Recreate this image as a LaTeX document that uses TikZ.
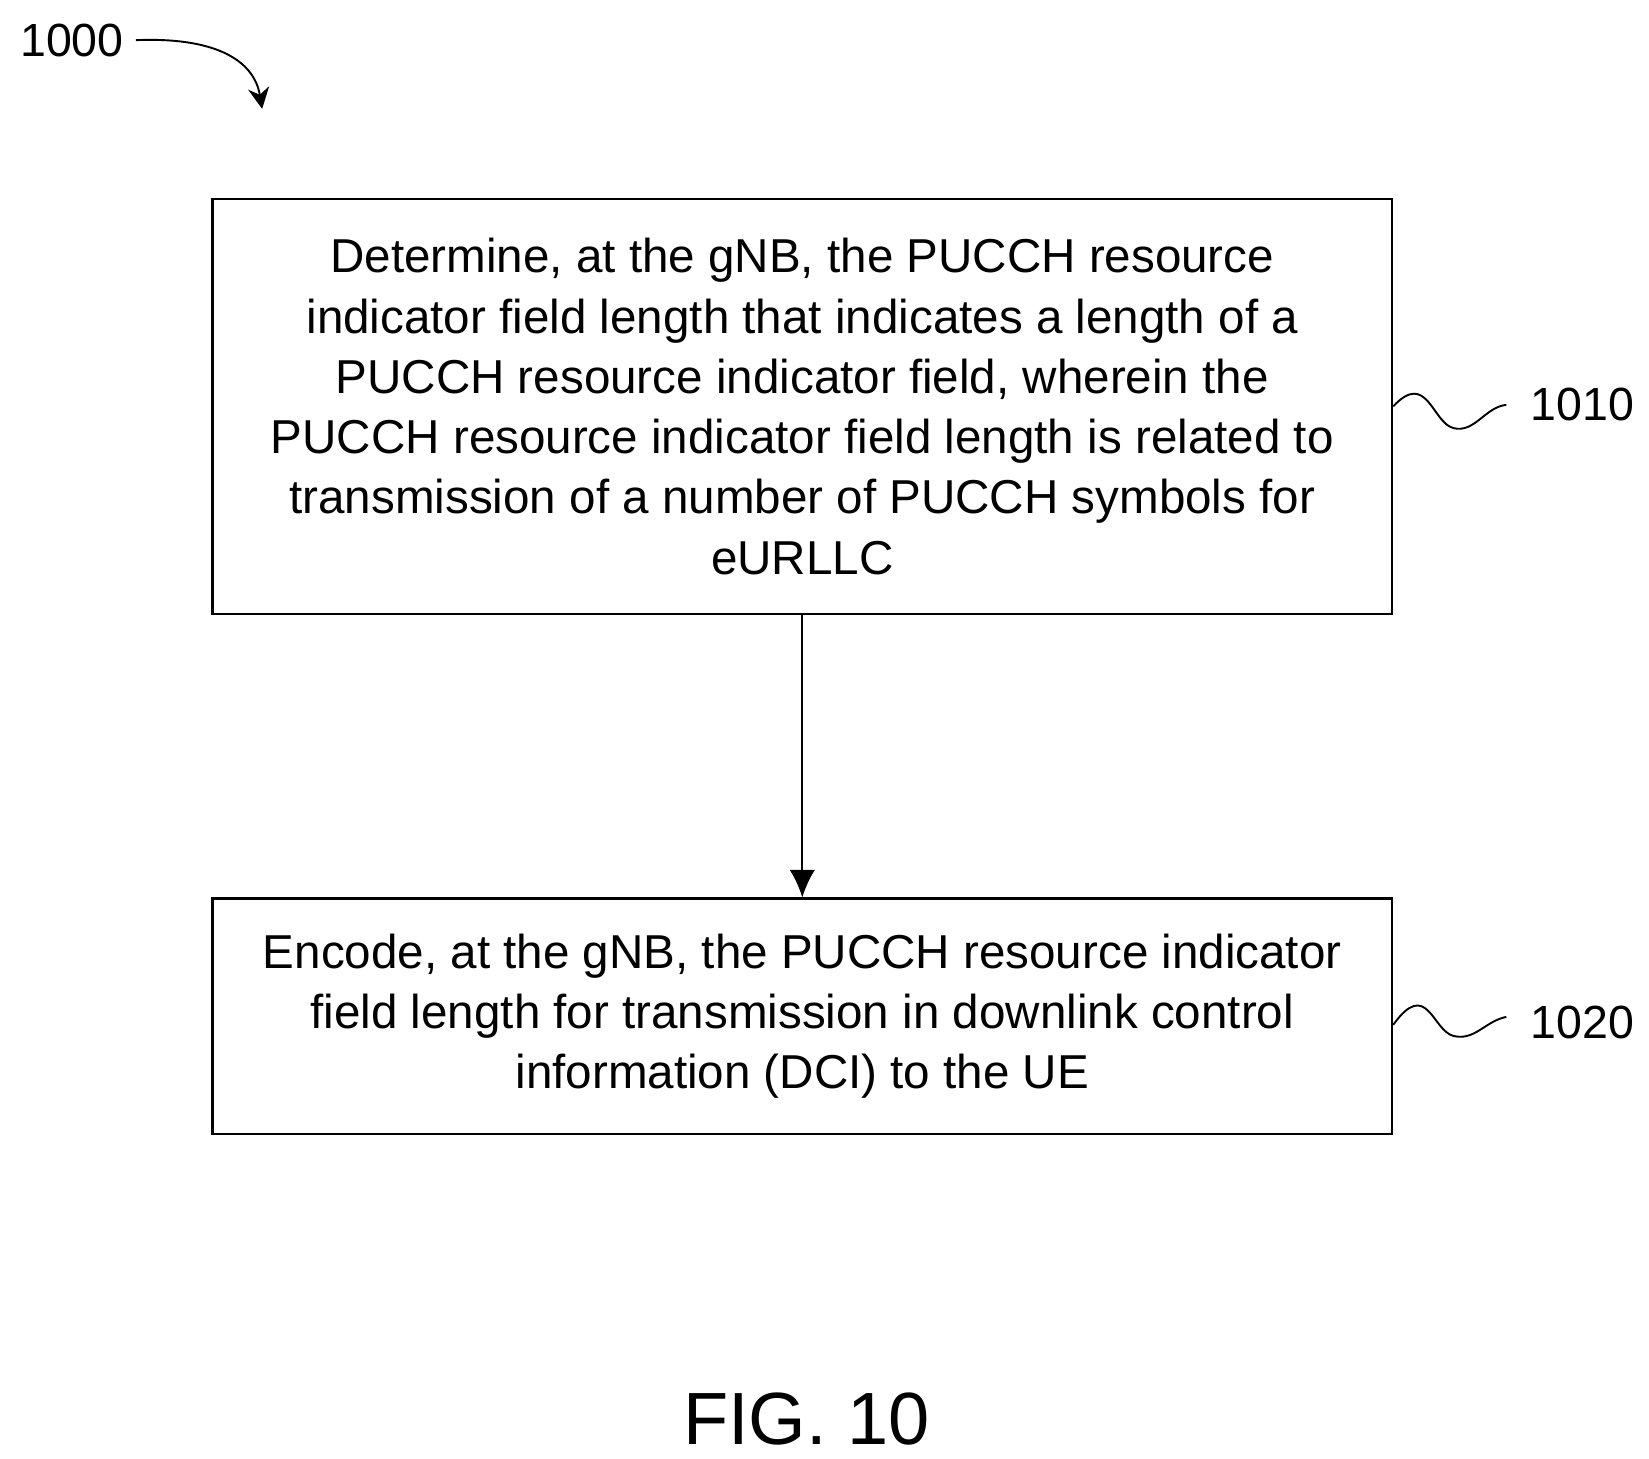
\documentclass[tikz,border=0pt]{standalone}
\usepackage{fontspec}
\setmainfont{Liberation Sans}
\usetikzlibrary{arrows.meta}
\begin{document}
\begin{tikzpicture}[x=1pt,y=-1pt,
  box/.style={draw,line width=2pt,minimum width=1116pt,align=center,inner sep=0pt,font=\fontsize{45}{57}\selectfont},
  lbl/.style={font=\fontsize{44}{46}\selectfont},
  wire/.style={line width=1.8pt}]
\useasboundingbox (0,0) rectangle (1560,1380);
\node[box,minimum height=393pt] (b1) at (759,384.5) {Determine, at the gNB, the PUCCH resource\\indicator field length that indicates a length of a\\PUCCH resource indicator field, wherein the\\PUCCH resource indicator field length is related to\\transmission of a number of PUCCH symbols for\\eURLLC};
\node[box,minimum height=223pt] (b2) at (759,961.5) {Encode, at the gNB, the PUCCH resource indicator\\field length for transmission in downlink control\\information (DCI) to the UE};
\draw[wire,-{Latex[length=26pt,width=24pt]}] (b1.south) -- (b2.north);
\node[lbl] (l1) at (1497,383) {1010};
\node[lbl] (l2) at (1497,967) {1020};
\node[lbl] (l0) at (68,38) {1000};
\coordinate (s1) at (b1.east);
\draw[wire] (s1) .. controls (1350,350) and (1355,400) .. (1375,405) .. controls (1395,410) and (1405,385) .. (1425,383);
\coordinate (s2) at ([yshift=-8pt]b2.east);
\draw[wire] (s2) .. controls (1350,925) and (1355,975) .. (1375,980) .. controls (1395,985) and (1405,966) .. (1425,962);
\draw[wire,-{Stealth[length=20pt,width=20pt]}] (l0.east) ++(8,0) .. controls (200,35) and (240,55) .. (248,103);
\node[font=\fontsize{70}{74}\selectfont] (fig) at (763,1342) {FIG. 10};
\end{tikzpicture}
\end{document}
